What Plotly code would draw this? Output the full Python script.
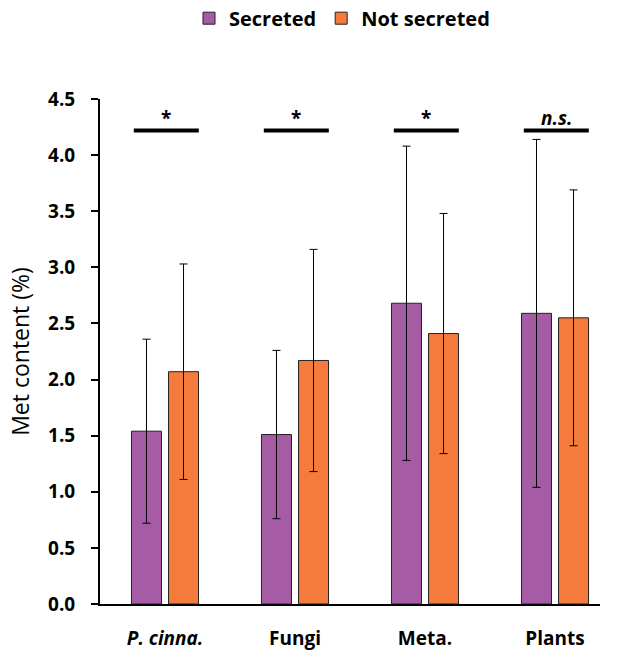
import plotly.graph_objects as go

categories = ["<i>P. cinna.</i>", "Fungi", "Meta.", "Plants"]
secreted = [1.54, 1.51, 2.68, 2.59]
secreted_err = [0.82, 0.75, 1.40, 1.55]
not_secreted = [2.07, 2.17, 2.41, 2.55]
not_secreted_err = [0.96, 0.99, 1.07, 1.14]
significance = ["*", "*", "*", "<i>n.s.</i>"]
sig_y = 4.22

PURPLE = "#A65BA5"
ORANGE = "#F47B3B"
FONT = "'Open Sans', sans-serif"

fig = go.Figure()
fig.add_trace(go.Bar(
    x=categories, y=secreted, name="Secreted",
    marker=dict(color=PURPLE, line=dict(color="#222222", width=1)),
    error_y=dict(type="data", array=secreted_err, visible=True,
                 color="black", thickness=1, width=4),
))
fig.add_trace(go.Bar(
    x=categories, y=not_secreted, name="Not secreted",
    marker=dict(color=ORANGE, line=dict(color="#222222", width=1)),
    error_y=dict(type="data", array=not_secreted_err, visible=True,
                 color="black", thickness=1, width=4),
))

for i, lab in enumerate(significance):
    fig.add_shape(type="line", xref="x", yref="y",
                  x0=i - 0.24, x1=i + 0.26, y0=sig_y, y1=sig_y,
                  line=dict(color="black", width=4))
    fig.add_annotation(x=i + 0.01, y=sig_y, xref="x", yref="y",
                       text="<b>" + lab + "</b>", showarrow=False,
                       yanchor="bottom", yshift=-3,
                       font=dict(size=19, color="black", family=FONT))

fig.update_layout(
    width=619, height=655,
    margin=dict(l=100, r=19, t=99, b=51, autoexpand=False),
    paper_bgcolor="white", plot_bgcolor="white",
    barmode="group", bargap=0.43, bargroupgap=0.19,
    font=dict(family=FONT, color="black"),
    legend=dict(orientation="h", x=0.484, xanchor="center", y=1.160, yanchor="middle",
                font=dict(size=20, family=FONT, weight="bold"),
                itemwidth=30, tracegroupgap=0),
    xaxis=dict(range=[-0.5, 3.346], showline=True, linecolor="black", linewidth=2,
               ticks="", tickfont=dict(size=19, family=FONT, weight="bold"),
               ticklabelstandoff=16,
               showgrid=False, zeroline=False),
    yaxis=dict(range=[0, 4.5], dtick=0.5, tickformat=".1f",
               showline=True, linecolor="black", linewidth=2,
               ticks="outside", ticklen=7, tickwidth=2, tickcolor="black",
               tickfont=dict(size=19, family=FONT, weight="bold"),
               ticklabelstandoff=12,
               showgrid=False, zeroline=False,
               title=dict(text="Met content (%)", font=dict(size=23, family=FONT),
                          standoff=12)),
)

fig.write_html("out.html", config={"displayModeBar": False},
               post_script="document.body.style.margin='0';")
